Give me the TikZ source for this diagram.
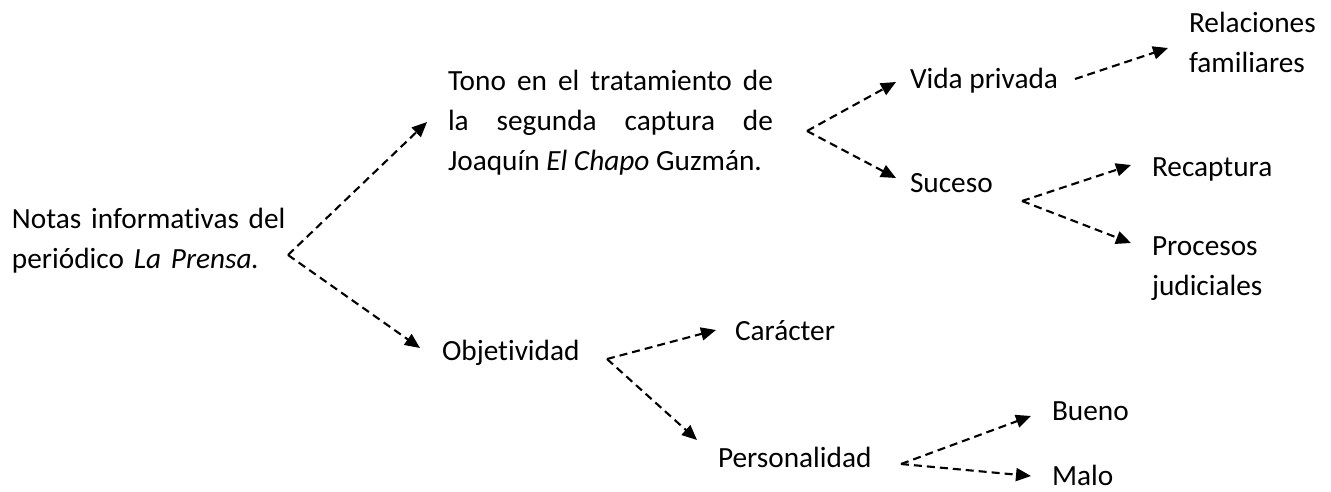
\documentclass[tikz,border=0pt]{standalone}
\usepackage{fontspec}
\setmainfont{Carlito}[RawFeature=-liga]
\usetikzlibrary{arrows.meta,calc}
\tikzset{
  lbl/.style={anchor=base west, inner sep=0pt, outer sep=0pt, font=\fontsize{29.3}{40}\selectfont},
  conn/.style={line width=2.1pt, dash pattern=on 8pt off 5pt, -{Triangle[length=15pt,width=13pt]}}
}
\begin{document}
\begin{tikzpicture}[x=1pt,y=-1pt]
\useasboundingbox (0,0) rectangle (1331,491);
\node[lbl, text width=280pt, align=left] (root) at (12,228) {Notas informativas del\\periódico \textit{La Prensa.}};
\node[lbl, text width=325pt, align=justify] (tono) at (448,90) {Tono en el tratamiento de\linebreak la segunda captura de\linebreak Joaquín \textit{El Chapo} Guzmán.};
\node[lbl] (obj) at (442,360) {Objetividad};
\node[lbl] (vida) at (910,88) {Vida privada};
\node[lbl] (suceso) at (910,192) {Suceso};
\node[lbl, text width=140pt, align=left] (rel) at (1189,32) {Relaciones\\familiares};
\node[lbl] (recap) at (1152,176) {Recaptura};
\node[lbl, text width=140pt, align=left] (proc) at (1152,255) {Procesos\\judiciales};
\node[lbl] (car) at (735,340) {Carácter};
\node[lbl] (pers) at (718,467) {Personalidad};
\node[lbl] (bueno) at (1052,420) {Bueno};
\node[lbl] (malo) at (1052,485) {Malo};
\coordinate (c1) at (288,255);
\coordinate (c2) at (807,131);
\coordinate (c3) at (1022,201);
\coordinate (c4) at (607,359);
\coordinate (c5) at (901,464);
\draw[conn] (c1) -- ($(tono.base west)+(-21,32)$);
\draw[conn] (c1) -- ($(obj.base west)+(-22,-12)$);
\draw[conn] (c2) -- ($(vida.base west)+(-14,-6)$);
\draw[conn] (c2) -- ($(suceso.base west)+(-14,-14)$);
\draw[conn] ($(vida.base east)+(17,-9)$) -- ($(rel.base west)+(-21,16)$);
\draw[conn] (c3) -- ($(recap.base west)+(-21,-11)$);
\draw[conn] (c3) -- ($(proc.base west)+(-21,-12)$);
\draw[conn] (c4) -- ($(car.base west)+(-19,-10)$);
\draw[conn] (c4) -- ($(pers.base west)+(-21,-27)$);
\draw[conn] (c5) -- ($(bueno.base west)+(-21,-4)$);
\draw[conn] (c5) -- ($(malo.base west)+(-21,-9)$);
\end{tikzpicture}
\end{document}
